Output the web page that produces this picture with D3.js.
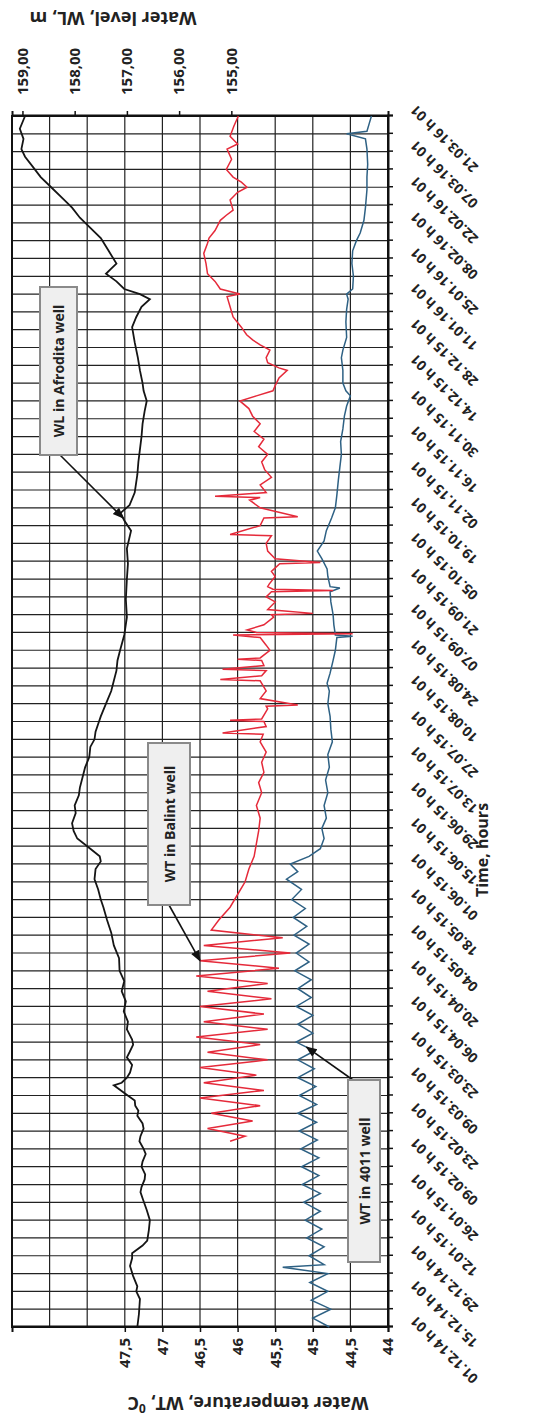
<!DOCTYPE html>
<html>
<head>
<meta charset="utf-8">
<script src="https://cdn.jsdelivr.net/npm/d3@7"></script>
<style>
body { margin: 0; background: #fff; }
svg text { font-family: "Open Sans", "DejaVu Sans", sans-serif; font-weight: bold; fill: #222; }
</style>
</head>
<body>
<svg id="chart" width="534" height="1423"></svg>
<script>
// day offsets from 01.12.14 and readings
var startDate = new Date(2014, 11, 1);
var endDate = new Date(2016, 2, 21);

var tempTicks = [44, 44.5, 45, 45.5, 46, 46.5, 47, 47.5];
var levelTicks = [155, 156, 157, 158, 159];

var wlDays   = [0, 5, 11, 14, 16, 20, 24, 27, 29, 32, 34, 38, 42, 46, 50, 53, 55, 58, 60, 63, 65, 68, 70, 73, 75, 78, 80, 83, 85, 87, 89, 92, 95, 96, 98, 100, 103, 106, 108, 111, 113, 117, 120, 124, 128, 132, 136, 140, 145, 150, 155, 160, 165, 168, 172, 176, 180, 183, 185, 188, 192, 195, 198, 202, 205, 209, 212, 216, 220, 224, 228, 231, 234, 237, 240, 245, 250, 254, 258, 262, 266, 272, 279, 286, 294, 300, 306, 313, 317, 320, 323, 328, 335, 340, 345, 350, 355, 360, 364, 368, 371, 376, 381, 387, 393, 397, 401, 404, 406, 408, 411, 414, 416, 418, 423, 428, 432, 436, 440, 444, 448, 452, 456, 460, 463, 467, 471, 476];
var wlLevels = [156.8, 156.77, 156.75, 156.82, 156.8, 156.88, 156.94, 156.9, 156.9, 156.7, 156.61, 156.58, 156.56, 156.62, 156.69, 156.74, 156.72, 156.66, 156.65, 156.72, 156.7, 156.64, 156.68, 156.76, 156.74, 156.68, 156.7, 156.8, 156.78, 156.84, 156.85, 157.05, 157.25, 157.1, 157.0, 156.94, 156.9, 157.0, 156.95, 156.88, 156.9, 157.0, 156.98, 157.06, 157.02, 157.1, 157.05, 157.14, 157.15, 157.25, 157.3, 157.38, 157.45, 157.5, 157.55, 157.62, 157.6, 157.5, 157.52, 157.7, 157.95, 158.02, 158.05, 157.98, 158.0, 157.92, 157.9, 157.85, 157.8, 157.72, 157.7, 157.62, 157.6, 157.55, 157.5, 157.4, 157.3, 157.25, 157.2, 157.18, 157.13, 157.05, 157.0, 157.02, 157.0, 156.98, 157.0, 156.92, 157.05, 157.12, 156.95, 156.85, 156.8, 156.78, 156.75, 156.72, 156.7, 156.66, 156.62, 156.68, 156.7, 156.75, 156.79, 156.85, 156.9, 156.82, 156.72, 156.56, 156.75, 157.05, 157.2, 157.4, 157.3, 157.2, 157.35, 157.5, 157.7, 157.9, 158.05, 158.25, 158.45, 158.65, 158.8, 158.95, 159.02, 158.98, 159.05, 158.95];

var balintDays  = [73, 75, 78, 81, 84, 87, 90, 93, 96, 99, 102, 105, 108, 111, 114, 117, 120, 123, 126, 129, 132, 135, 138, 141, 144, 147, 150, 153, 156, 160, 165, 170, 175, 180, 185, 190, 195, 200, 205, 210, 214, 218, 222, 226, 230, 233, 233.5, 236, 238, 238.5, 239, 243, 244, 244.5, 247, 250, 254, 254.5, 256, 258, 258.5, 260, 262, 262.5, 263, 266, 268, 271, 272, 272.5, 273, 274, 276, 279, 280, 280.5, 282, 285, 287, 289, 289.5, 290, 291, 292, 295, 297, 300, 300.5, 302, 305, 308, 311, 311.5, 315, 318, 318.5, 322, 325, 326, 326.5, 328, 331, 334, 337, 340, 343, 346, 349, 352, 355, 358, 361, 364, 366, 368, 370, 373, 376, 377, 379, 381, 384, 386, 388, 390, 393, 397, 401, 405, 406, 408, 411, 414, 418, 422, 426, 428, 431, 435, 437, 439, 443, 446, 448, 450, 452, 455, 459, 463, 465, 468, 472, 476];
var balintTemps = [46.1, 45.9, 46.4, 45.8, 46.35, 45.7, 46.5, 45.65, 46.45, 45.75, 46.5, 45.6, 46.4, 45.7, 46.55, 45.6, 46.45, 45.65, 46.5, 45.55, 46.4, 45.6, 46.55, 45.45, 46.5, 45.3, 46.45, 45.4, 46.35, 46.25, 46.1, 46.0, 45.9, 45.85, 45.78, 45.75, 45.72, 45.7, 45.75, 45.68, 45.72, 45.65, 45.68, 45.62, 45.7, 45.66, 46.2, 45.62, 45.65, 46.1, 45.68, 45.6, 45.62, 45.2, 45.7, 45.62, 45.7, 46.23, 45.68, 45.62, 46.2, 45.65, 45.68, 46.0, 45.7, 45.57, 45.62, 45.7, 46.06, 44.47, 45.75, 45.875, 45.65, 45.52, 45.55, 45.0, 45.6, 45.5, 45.62, 45.55, 44.73, 45.53, 45.6, 45.58, 45.5, 45.55, 45.44, 44.9, 45.5, 45.6, 45.62, 45.55, 46.1, 45.7, 45.65, 45.2, 45.7, 45.84, 45.7, 46.3, 45.62, 45.7, 45.55, 45.64, 45.68, 45.6, 45.72, 45.65, 45.78, 45.7, 45.8, 45.85, 45.97, 45.75, 45.53, 45.5, 45.45, 45.34, 45.45, 45.6, 45.62, 45.57, 45.7, 45.8, 45.88, 45.95, 46.06, 46.1, 46.14, 45.97, 46.23, 46.3, 46.4, 46.42, 46.45, 46.4, 46.38, 46.3, 46.23, 46.15, 46.06, 46.1, 46.0, 45.875, 45.95, 46.06, 46.15, 46.08, 46.14, 46.0, 46.1, 46.05, 45.99];

var w4011Days  = [0, 3.5, 7, 10.5, 14, 17.5, 21, 23.5, 24.5, 28, 31.5, 35, 38.5, 42, 45.5, 49, 52.5, 56, 59.5, 63, 66.5, 70, 73.5, 77, 80.5, 84, 87.5, 91, 94.5, 98, 101.5, 105, 108.5, 112, 115.5, 119, 122.5, 126, 129.5, 133, 136.5, 140, 143.5, 147, 150.5, 154, 157.5, 161, 164.5, 168, 172, 176, 179, 182, 185, 188, 192, 196, 200, 205, 210, 215, 220, 225, 230, 235, 240, 245, 250, 253, 257, 262, 266, 271, 271.5, 272, 276, 280, 285, 289, 290.5, 291, 295, 298, 302, 305, 309, 313, 318, 322, 327, 333, 338, 343, 348, 353, 358, 362, 366, 368, 371, 376, 381, 384, 389, 395, 400, 404, 406, 408, 413, 418, 423, 427, 430, 435, 440, 447, 452, 457, 463, 467, 469, 470, 473, 476];
var w4011Temps = [44.78, 45.0, 44.76, 45.02, 44.8, 45.04, 44.8, 45.4, 44.85, 45.05, 44.85, 45.08, 44.88, 45.1, 44.9, 45.12, 44.9, 45.14, 44.92, 45.15, 44.92, 45.16, 44.94, 45.18, 44.95, 45.2, 44.95, 45.18, 44.96, 45.2, 44.98, 45.2, 44.98, 45.22, 45.0, 45.2, 45.0, 45.22, 45.02, 45.2, 45.02, 45.24, 45.05, 45.22, 45.05, 45.25, 45.08, 45.26, 45.1, 45.28, 45.15, 45.35, 45.2, 45.3, 45.05, 44.9, 44.85, 44.88, 44.82, 44.85, 44.8, 44.83, 44.78, 44.8, 44.74, 44.76, 44.77, 44.8, 44.78, 44.81, 44.77, 44.73, 44.7, 44.68, 44.47, 44.7, 44.72, 44.73, 44.76, 44.77, 44.64, 44.77, 44.8, 44.81, 44.88, 44.94, 44.85, 44.82, 44.75, 44.7, 44.68, 44.66, 44.64, 44.62, 44.63, 44.6, 44.58, 44.55, 44.5, 44.56, 44.6, 44.6, 44.62, 44.6, 44.55, 44.56, 44.55, 44.53, 44.55, 44.47, 44.46, 44.48, 44.47, 44.42, 44.37, 44.32, 44.3, 44.28, 44.28, 44.27, 44.28, 44.3, 44.55, 44.28, 44.25, 44.22];

function dayDate(d) { return new Date(startDate.getTime() + d * 864e5); }
function comma(s) { return String(s).replace(".", ","); }

var svg = d3.select("#chart");

// chart is drawn as a normal landscape chart, then turned a quarter turn
var W = 1211, H = 376;
var chart = svg.append("g").attr("transform", "translate(12,1327) rotate(-90)");

var x = d3.scaleTime().domain([startDate, endDate]).range([0, W]);
var yT = d3.scaleLinear().domain([44, 49]).range([H, 0]);
var yL = d3.scaleLinear().domain([152, 159.2]).range([H, 0]);

var weeks = d3.timeDay.range(startDate, d3.timeDay.offset(endDate, 1), 7);

// grid
chart.append("g").selectAll("line")
    .data(weeks)
    .enter().append("line")
    .attr("x1", function(d) { return x(d); })
    .attr("x2", function(d) { return x(d); })
    .attr("y1", 0).attr("y2", H)
    .attr("stroke", "#222").attr("stroke-width", 1.2);

chart.append("g").selectAll("line")
    .data(d3.range(44, 49.01, 0.5))
    .enter().append("line")
    .attr("x1", 0).attr("x2", W)
    .attr("y1", function(d) { return yT(d); })
    .attr("y2", function(d) { return yT(d); })
    .attr("stroke", "#222").attr("stroke-width", 1.2);

chart.append("rect")
    .attr("width", W).attr("height", H)
    .attr("fill", "none").attr("stroke", "#111").attr("stroke-width", 2);

// axes
var axisT = chart.append("g")
    .call(d3.axisLeft(yT).tickValues(tempTicks).tickSize(5).tickPadding(6)
        .tickFormat(function(d) { return comma(d); }));

var axisL = chart.append("g")
    .attr("transform", "translate(" + W + ",0)")
    .call(d3.axisRight(yL).tickValues(levelTicks).tickSize(5).tickPadding(16)
        .tickFormat(function(d) { return comma(d.toFixed(2)); }));

var fmt = d3.timeFormat("%d.%m.%y");
var axisX = chart.append("g")
    .attr("transform", "translate(0," + H + ")")
    .call(d3.axisBottom(x).tickValues(weeks).tickSize(5)
        .tickFormat(function(d, i) { return i % 2 ? "" : fmt(d) + " h 01"; }));

[axisT, axisL, axisX].forEach(function(a) {
    a.select(".domain").attr("stroke", "#111").attr("stroke-width", 2);
    a.selectAll(".tick line").attr("stroke", "#111").attr("stroke-width", 1.5);
    a.selectAll("text").attr("font-size", 15).attr("fill", "#222");
});

axisX.selectAll("text")
    .attr("font-size", 14)
    .attr("text-anchor", "end")
    .attr("y", 0).attr("dy", "0.35em")
    .attr("transform", "translate(8,25) rotate(-45)");

// series
function series(days, vals) {
    return days.map(function(d, i) { return { date: dayDate(d), value: vals[i] }; });
}
var wlData = series(wlDays, wlLevels);
var balintData = series(balintDays, balintTemps);
var w4011Data = series(w4011Days, w4011Temps);

var lineT = d3.line().x(function(d) { return x(d.date); }).y(function(d) { return yT(d.value); });
var lineL = d3.line().x(function(d) { return x(d.date); }).y(function(d) { return yL(d.value); });

chart.append("path").datum(w4011Data)
    .attr("d", lineT).attr("fill", "none").attr("stroke", "#2e6184").attr("stroke-width", 1.5);
chart.append("path").datum(balintData)
    .attr("d", lineT).attr("fill", "none").attr("stroke", "#e52a3a").attr("stroke-width", 1.5);
chart.append("path").datum(wlData)
    .attr("d", lineL).attr("fill", "none").attr("stroke", "#151515").attr("stroke-width", 1.8);

// axis titles
var tTitle = chart.append("text")
    .attr("transform", "translate(-77," + (H / 2 + 48) + ") rotate(-90)")
    .attr("text-anchor", "middle").attr("dominant-baseline", "central")
    .attr("font-size", 18);
tTitle.append("tspan").text("Water temperature, WT, ");
tTitle.append("tspan").attr("font-size", 12).attr("dy", -5).text("0");
tTitle.append("tspan").attr("dy", 5).text("C");

chart.append("text")
    .attr("transform", "translate(" + (W + 97) + ",101) rotate(-90)")
    .attr("text-anchor", "middle").attr("dominant-baseline", "central")
    .attr("font-size", 18)
    .text("Water level, WL, m");

chart.append("text")
    .attr("x", 477).attr("y", 470)
    .attr("text-anchor", "middle").attr("dominant-baseline", "central")
    .attr("font-size", 16)
    .text("Time, hours");

// callouts
svg.append("defs").append("marker")
    .attr("id", "arrow").attr("viewBox", "0 0 10 10")
    .attr("refX", 9).attr("refY", 5)
    .attr("markerWidth", 7).attr("markerHeight", 7)
    .attr("orient", "auto")
    .append("path").attr("d", "M0,1L10,5L0,9Z").attr("fill", "#111");

var bisect = d3.bisector(function(d) { return d.date; }).left;
function valueAt(data, day) {
    var dt = dayDate(day), i = bisect(data, dt);
    var a = data[Math.max(0, i - 1)], b = data[Math.min(data.length - 1, i)];
    var t = b.date - a.date ? (dt - a.date) / (b.date - a.date) : 0;
    return a.value + t * (b.value - a.value);
}

var callouts = [
    { label: "WL in Afrodita well", bx: 872, by: 28, bw: 168, bh: 37, sx: 872, sy: 48, day: 318, data: wlData, scale: yL },
    { label: "WT in Balint well", bx: 422, by: 136, bw: 162, bh: 42, sx: 422, sy: 157, day: 144, data: balintData, scale: yT },
    { label: "WT in 4011 well", bx: 65, by: 336, bw: 182, bh: 32, sx: 247, sy: 341, day: 110, data: w4011Data, scale: yT }
];

var co = chart.append("g").selectAll("g").data(callouts).enter().append("g");
co.append("line")
    .attr("x1", function(d) { return d.sx; })
    .attr("y1", function(d) { return d.sy; })
    .attr("x2", function(d) { return x(dayDate(d.day)); })
    .attr("y2", function(d) { return d.scale(valueAt(d.data, d.day)); })
    .attr("stroke", "#111").attr("stroke-width", 1.6)
    .attr("marker-end", "url(#arrow)");
co.append("rect")
    .attr("x", function(d) { return d.bx; }).attr("y", function(d) { return d.by; })
    .attr("width", function(d) { return d.bw; }).attr("height", function(d) { return d.bh; })
    .attr("fill", "#efefef").attr("stroke", "#8a8a8a").attr("stroke-width", 2);
co.append("text")
    .attr("x", function(d) { return d.bx + d.bw / 2; })
    .attr("y", function(d) { return d.by + d.bh / 2; })
    .attr("text-anchor", "middle").attr("dominant-baseline", "central")
    .attr("font-size", 14)
    .text(function(d) { return d.label; });
</script>
</body>
</html>
